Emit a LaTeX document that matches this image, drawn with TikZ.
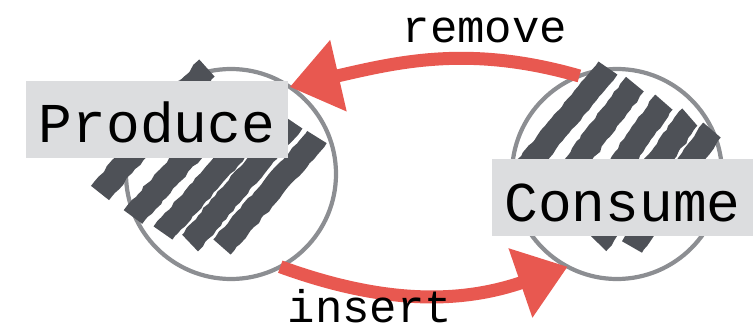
\documentclass[tikz,border=0pt]{standalone}
\usepackage{fontspec}
\setmonofont{Liberation Mono}
\usepackage{tikz}
\usetikzlibrary{arrows.meta,decorations.pathmorphing}
\definecolor{chalkred}{RGB}{232,88,80}
\definecolor{chalkgray}{RGB}{78,81,87}
\definecolor{ringgray}{RGB}{140,142,146}
\definecolor{boxgray}{RGB}{220,221,223}

\begin{document}
\begin{tikzpicture}[
    ring/.style={circle,draw=ringgray,line width=1.2pt,minimum size=2.1cm,inner sep=0pt,outer sep=0pt},
    hatch/.style={chalkgray,line width=0.23cm,decorate,decoration={random steps,segment length=1.5pt,amplitude=0.25pt}},
    tag/.style={fill=boxgray,minimum width=2.62cm,minimum height=0.77cm,text height=4.7mm,text depth=0mm,inner sep=0pt,font=\ttfamily\fontsize{16}{16}\selectfont},
    flow/.style={chalkred,line width=0.13cm,-{Triangle[length=5mm,width=7mm]}},
    verb/.style={inner sep=1pt,font=\ttfamily\fontsize{13}{13}\selectfont}]
    \useasboundingbox (0,0) rectangle (7.53,3.26);
    \node[ring] (prodC) at (2.31,1.52) {};
    \node[ring] (consC) at (6.17,1.52) {};
    % scribbles inside the rings
    \foreach \xa/\ya/\xb/\yb in {1.00/1.33/2.07/2.58, 1.33/1.09/2.45/2.34, 1.63/0.93/2.72/2.16, 1.90/0.83/2.93/2.04, 2.22/0.79/3.17/1.89}
        \draw[hatch] (\xa,\ya) -- (\xb,\yb);
    \foreach \xa/\ya/\xb/\yb in {5.20/1.51/6.08/2.58, 5.48/1.26/6.35/2.42, 5.76/0.98/6.64/2.24, 5.98/0.83/6.90/2.09, 6.32/0.79/7.12/1.96}
        \draw[hatch] (\xa,\ya) -- (\xb,\yb);
    \node[tag] (produce) at (1.57,2.065) {Produce};
    \node[tag] (consume) at (6.225,1.28) {Consume};
    \draw[flow] (consC.111) to[out=164,in=13] (prodC.56);
    \draw[flow] (prodC.-62) to[out=-20,in=199] (consC.-118);
    \node[verb] (remove) at (4.85,2.96) {remove};
    \node[verb] (insert) at (3.70,0.2) {insert};
\end{tikzpicture}
\end{document}
